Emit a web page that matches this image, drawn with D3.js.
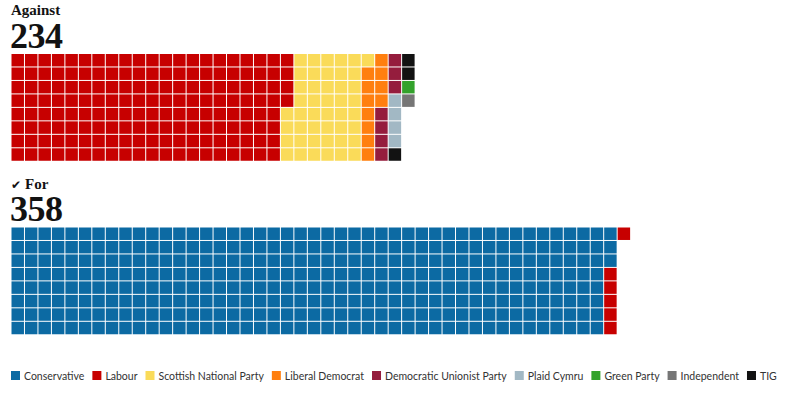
<!DOCTYPE html>
<html>
<head>
<meta charset="utf-8">
<script src="https://cdn.jsdelivr.net/npm/d3@7"></script>
<style>
  body { margin: 0; background: #fff; }
  svg { display: block; }
</style>
</head>
<body>
<div id="chart"></div>
<script>
// Waffle: how MPs voted, one square per MP, filled column by column
const width = 786, height = 394;
const cell = 13.47, rows = 8, left = 11;

const parties = ["Conservative", "Labour", "Scottish National Party", "Liberal Democrat",
  "Democratic Unionist Party", "Plaid Cymru", "Green Party", "Independent", "TIG"];
const partyColours = ["#0c6aa3", "#c70000", "#fadb59", "#ff7f0f", "#951d3d", "#a2b8c4", "#33a22b", "#767676", "#121212"];

const againstParties = ["Labour", "Scottish National Party", "Liberal Democrat",
  "Democratic Unionist Party", "Plaid Cymru", "TIG", "Green Party", "Independent"];
const againstCounts = [164, 45, 11, 7, 4, 3, 1, 1];
const againstLabel = "Against", againstTotal = "234";

const forParties = ["Conservative", "Labour"];
const forCounts = [355, 6];
const forLabel = "For", forTotal = "358";

const color = d3.scaleOrdinal().domain(parties).range(partyColours);

const svg = d3.select("#chart").append("svg")
  .attr("width", width).attr("height", height);

const col = d3.scaleLinear().domain([0, 1]).range([left, left + cell]);

function expand(names, counts) {
  const out = [];
  names.forEach((n, i) => { for (let k = 0; k < counts[i]; k++) out.push(n); });
  return out;
}

function block(names, counts, top, label, total, tick) {
  const row = d3.scaleLinear().domain([0, 1]).range([top, top + cell]);
  const cells = expand(names, counts);
  svg.append("g").selectAll("rect").data(cells).join("rect")
    .attr("x", (d, i) => col(Math.floor(i / rows)) + 0.5)
    .attr("y", (d, i) => row(i % rows) + 0.5)
    .attr("width", cell - 1)
    .attr("height", cell - 1)
    .attr("fill", d => color(d));

  if (tick) {
    svg.append("text").attr("x", left).attr("y", top - 38.5)
      .attr("font-family", "DejaVu Sans").attr("font-size", 12)
      .attr("fill", "#121212").text("\u2714");
  }
  svg.append("text")
    .attr("x", tick ? left + 14 : left).attr("y", top - 38.5)
    .attr("font-family", "Liberation Serif, serif")
    .attr("font-weight", "bold").attr("font-size", 15)
    .attr("fill", "#121212")
    .text(label);
  svg.append("text")
    .attr("x", left - 1).attr("y", top - 6)
    .attr("font-family", "Liberation Serif, serif")
    .attr("font-weight", "bold").attr("font-size", 36)
    .attr("letter-spacing", -0.5)
    .attr("fill", "#121212")
    .text(total);
}

block(againstParties, againstCounts, 53.5, againstLabel, againstTotal, false);
block(forParties, forCounts, 227, forLabel, forTotal, true);

// Legend along the bottom
const legend = svg.append("g").attr("transform", "translate(11,371)");
let lx = 0;
parties.forEach(p => {
  legend.append("rect").attr("x", lx).attr("y", 0).attr("width", 9).attr("height", 9)
    .attr("fill", color(p));
  const t = legend.append("text").attr("x", lx + 13).attr("y", 8.5)
    .attr("font-family", "Lato, sans-serif").attr("font-size", 10.5)
    .attr("fill", "#333").text(p);
  lx += 13 + t.node().getComputedTextLength() + 8;
});
</script>
</body>
</html>
